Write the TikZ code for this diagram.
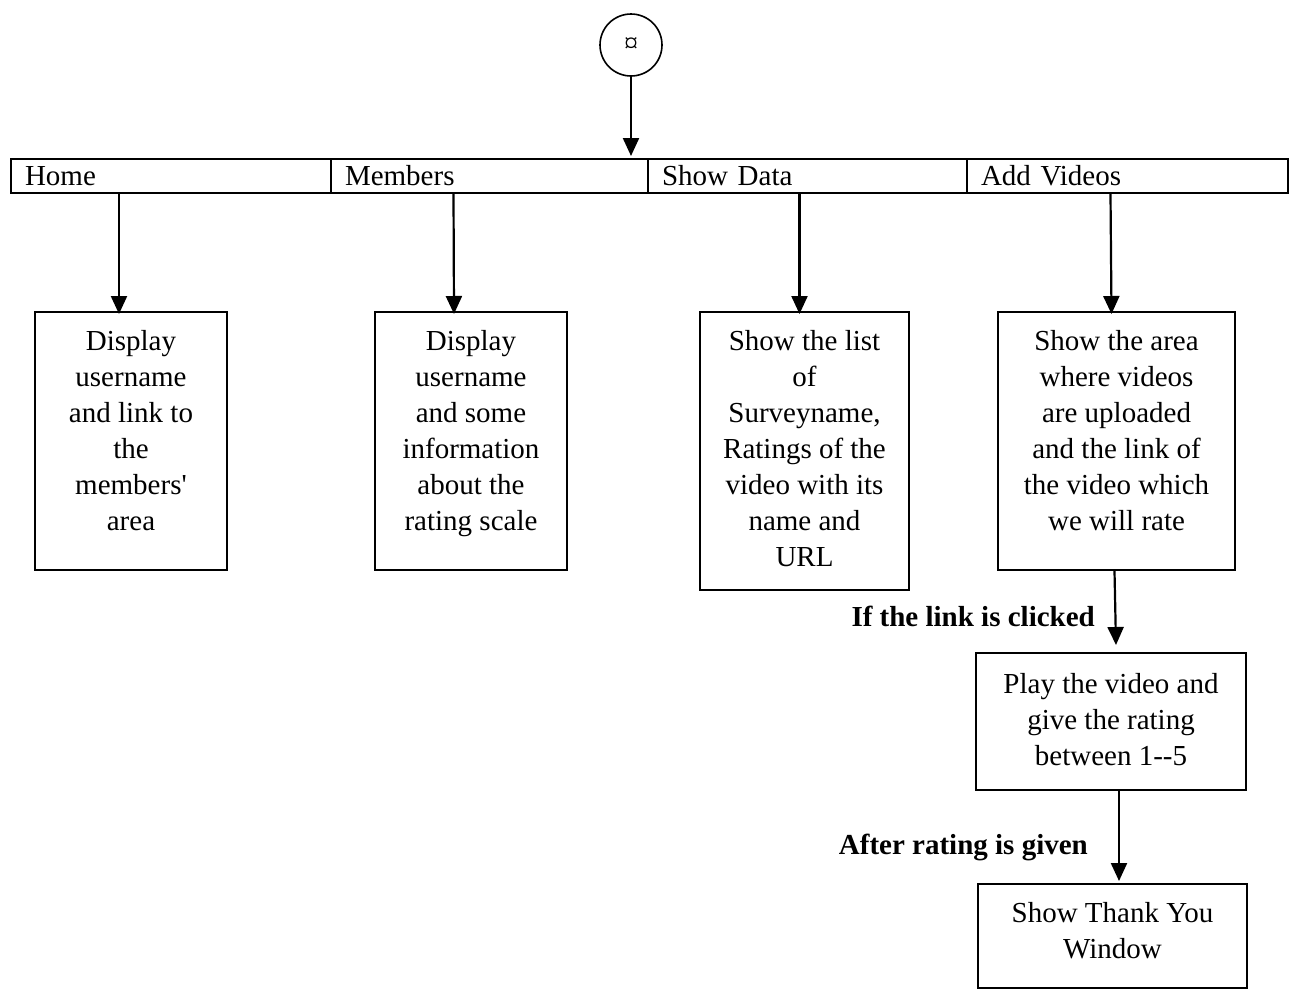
\documentclass[tikz,border=0pt]{standalone}
\usepackage{fontspec}
\setmainfont{Liberation Serif}[Ligatures=TeXOff]
\usetikzlibrary{arrows.meta,calc}
\tikzset{
  box/.style={draw, line width=2pt, rectangle, inner sep=0pt},
  cell/.style={draw, line width=2pt, rectangle, inner xsep=14pt, inner ysep=0pt, minimum height=34pt, align=left, font=\fontsize{29}{36}\selectfont},
  btext/.style={inner sep=0pt, align=center, anchor=north, font=\fontsize{29}{36}\selectfont},
  lbl/.style={inner sep=0pt, font=\fontsize{29}{34}\selectfont\bfseries},
  arr/.style={line width=2.2pt, -{Triangle[length=18pt,width=16pt]}},
}
\begin{document}
\begin{tikzpicture}[x=1pt,y=-1pt]
\useasboundingbox[fill=white] (0,0) rectangle (1293,988);
% start circle
\node[draw, circle, line width=1.6pt, minimum size=62pt, inner sep=0pt, font=\fontsize{28}{30}\selectfont] (start) at (631,45) {¤};
% menu bar
\node[cell, text width=292pt, anchor=north west] (home) at (10,158) {Home};
\node[cell, text width=289pt, anchor=north west] (members) at (330,158) {Members};
\node[cell, text width=291pt, anchor=north west] (show) at (647,158) {Show Data};
\node[cell, text width=293pt, anchor=north west] (add) at (966,158) {Add Videos};
\coordinate (bartop) at (631,156);
\draw[arr] (start.south) -- (bartop);
% boxes
\node[box, minimum width=192pt, minimum height=258pt, anchor=north west] (hb) at (34,311) {};
\node[btext] (hbt) at ($(hb.north)+(0,19)$) {Display\\username\\and link to\\the\\members'\\area};
\node[box, minimum width=192pt, minimum height=258pt, anchor=north west] (mb) at (374,311) {};
\node[btext] (mbt) at ($(mb.north)+(0,19)$) {Display\\username\\and some\\information\\about the\\rating scale};
\node[box, minimum width=209pt, minimum height=278pt, anchor=north west] (sb) at (699,311) {};
\node[btext] (sbt) at ($(sb.north)+(0,19)$) {Show the list\\of\\Surveyname,\\Ratings of the\\video with its\\name and\\URL};
\node[box, minimum width=237pt, minimum height=258pt, anchor=north west] (ab) at (997,311) {};
\node[btext] (abt) at ($(ab.north)+(0,19)$) {Show the area\\where videos\\are uploaded\\and the link of\\the video which\\we will rate};
\node[box, minimum width=270pt, minimum height=137pt, anchor=north west] (pb) at (975,652) {};
\node[btext] (pbt) at ($(pb.north)+(0,21)$) {Play the video and\\give the rating\\between 1--5};
\node[box, minimum width=269pt, minimum height=104pt, anchor=north west] (tb) at (977,883) {};
\node[btext] (tbt) at ($(tb.north)+(0,19)$) {Show Thank You\\Window};
% arrows from menu
\draw[arr] ([xshift=-52pt]home.south) -- ([xshift=-12pt,yshift=-3pt]hb.north);
\draw[arr] ([xshift=-36pt]members.south) -- ([xshift=-17pt,yshift=-3pt]mb.north);
\draw[arr] ([xshift=-8pt]show.south) -- ([xshift=-5pt,yshift=-3pt]sb.north);
\draw[arr] ([xshift=-17pt]add.south) -- ([xshift=-5pt,yshift=-3pt]ab.north);
% lower flow
\draw[arr] ([xshift=-2pt]ab.south) -- ([xshift=5pt,yshift=7pt]pb.north);
\node[lbl, anchor=east] (l1) at (1095,616) {If the link is clicked};
\draw[arr] ([xshift=8pt]pb.south) -- ([xshift=6.5pt,yshift=2pt]tb.north);
\node[lbl, anchor=east] (l2) at (1088,847) {After rating is given};
\end{tikzpicture}
\end{document}
